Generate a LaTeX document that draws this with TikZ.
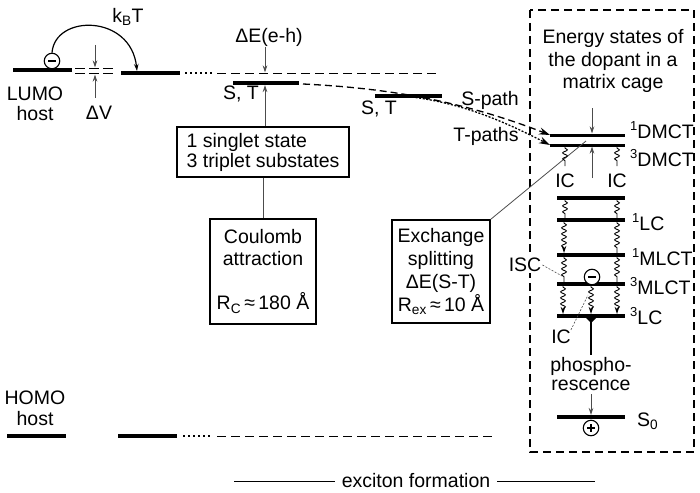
\documentclass[tikz,border=0pt]{standalone}
\usepackage{fontspec}
\setmainfont{Liberation Sans}
\usetikzlibrary{arrows.meta,decorations.pathmorphing}
\begin{document}
\begin{tikzpicture}[x=1pt,y=-1pt,
  lvl/.style={line width=3.6pt},
  txt/.style={font=\fontsize{19.5}{21}\selectfont, inner sep=0pt},
  thinln/.style={line width=0.8pt, black!70},
  arr/.style={-{Stealth[length=7pt,width=4.5pt]}},
  bigarr/.style={-{Stealth[length=11pt,width=7pt]}},
  wav/.style={decorate, decoration={snake, amplitude=2.4pt, segment length=6pt, pre length=1pt, post length=3pt}, line width=0.9pt},
  boxn/.style={draw, line width=1.1pt, inner sep=0pt},
  lead/.style={line width=0.6pt, dash pattern=on 2pt off 1.5pt, black!70},
  charge/.style={circle, draw, fill=white, minimum size=15.5pt, inner sep=0pt, line width=1.1pt}
]
\useasboundingbox (0,0) rectangle (700,492);

% ---------- LUMO side ----------
\coordinate (lumoA) at (13,70); \coordinate (lumoB) at (72,70);
\draw[lvl] (lumoA) -- (lumoB);
\node[txt, align=center, font=\fontsize{19.5}{20}\selectfont] (lumolbl) at (35,104) {LUMO\\host};
\node[charge] (elec) at (52,61) {};
\draw[line width=1.3pt] (48,61) -- (56,61);

\coordinate (dvA1) at (75,68.5); \coordinate (dvB1) at (115,68.5);
\coordinate (dvA2) at (75,73.5); \coordinate (dvB2) at (115,73.5);
\draw[line width=1.5pt, dash pattern=on 10pt off 4pt] (dvA1) -- (dvB1);
\draw[line width=1.5pt, dash pattern=on 10pt off 4pt] (dvA2) -- (dvB2);
\coordinate (dvtop) at (95,45); \coordinate (dvtopE) at (95,67.5);
\coordinate (dvbot) at (95,98); \coordinate (dvbotE) at (95,74.5);
\draw[thinln, arr] (dvtop) -- (dvtopE);
\draw[thinln, arr] (dvbot) -- (dvbotE);
\node[txt] (dvlbl) at (99,113) {ΔV};

\coordinate (lumo2A) at (121,73); \coordinate (lumo2B) at (180,73);
\draw[lvl] (lumo2A) -- (lumo2B);
\coordinate (lumoarr) at (137,71);
\draw[line width=1.2pt, arr] (elec.north) .. controls (55,14) and (131,14) .. (lumoarr);
\node[txt] (kbt) at (128,17) {k\textsubscript{B}T};

\coordinate (dotA) at (185,73); \coordinate (dotB) at (213,73);
\draw[line width=2.2pt, dash pattern=on 2pt off 3pt] (dotA) -- (dotB);
\coordinate (lumodashA) at (217,74); \coordinate (lumodashB) at (440,74);
\draw[line width=1pt, dash pattern=on 9pt off 5pt] (lumodashA) -- (lumodashB);

% Delta E(e-h)
\node[txt] (deh) at (269,37) {ΔE(e-h)};
\coordinate (dehA) at (265,47); \coordinate (dehB) at (265,72.5);
\draw[thinln, arr] (dehA) -- (dehB);

% S,T level 1
\coordinate (st1A) at (233,83); \coordinate (st1B) at (299,83);
\draw[lvl] (st1A) -- (st1B);
\node[txt] (st1lbl) at (241,94) {S, T};

% S,T level 2
\coordinate (st2A) at (375,96); \coordinate (st2B) at (442,96);
\draw[lvl] (st2A) -- (st2B);
\node[txt] (st2lbl) at (379,109) {S, T};

% singlet / triplet box
\node[boxn, minimum width=172pt, minimum height=50pt, align=left, font=\fontsize{19.5}{20}\selectfont] (stbox) at (263,152) {1 singlet state\\3 triplet substates};
\coordinate (stup) at (265,85);
\draw[thinln, arr] (stbox.north -| stup) -- (stup);

% Coulomb box
\node[boxn, minimum width=106pt, minimum height=105pt, align=center, font=\fontsize{19.5}{22}\selectfont] (coul) at (263,271.5) {Coulomb\\attraction\\[22pt]R\textsubscript{C}\,≈\,180 Å};
\draw[thinln] (stbox.south) -- (coul.north);

% Exchange box
\node[boxn, minimum width=98pt, minimum height=103pt, align=center, font=\fontsize{19.5}{23}\selectfont] (exch) at (441,271.5) {Exchange\\splitting\\ΔE(S-T)\\R\textsubscript{ex}\,≈\,10 Å};

% dashed frame
\coordinate (frA) at (530,10); \coordinate (frB) at (694,452);
\draw[line width=2.4pt, dash pattern=on 8pt off 5pt] (frA) rectangle (frB);
\node[txt, align=center, font=\fontsize{19.5}{22.5}\selectfont] (title) at (613,61) {Energy states of\\the dopant in a\\matrix cage};

% DMCT levels
\coordinate (d1A) at (550,135); \coordinate (d1B) at (625,135);
\coordinate (d3A) at (550,145); \coordinate (d3B) at (625,145);
\draw[line width=3pt] (d1A) -- (d1B);
\draw[line width=3pt] (d3A) -- (d3B);
\node[txt, anchor=west] (d1lbl) at (630,130) {\raisebox{8pt}{\fontsize{13}{13}\selectfont 1}DMCT};
\node[txt, anchor=west] (d3lbl) at (630,158) {\raisebox{8pt}{\fontsize{13}{13}\selectfont 3}DMCT};
\coordinate (ddA) at (592,108); \coordinate (ddAe) at (592,133.5);
\coordinate (ddB) at (592,178); \coordinate (ddBe) at (592,146.5);
\draw[thinln, arr] (ddA) -- (ddAe);
\draw[thinln, arr] (ddB) -- (ddBe);

% paths
\coordinate (spS) at (303,84);
\coordinate (tpS) at (412,97);
\draw[line width=1.3pt, dash pattern=on 7pt off 4pt, bigarr] (spS) .. controls (385,88) and (460,100) .. (d1A);
\draw[line width=1.3pt, dash pattern=on 2pt off 1.6pt, bigarr] (tpS) .. controls (465,104) and (505,122) .. (d3A);
\node[txt] (splbl) at (490,100) {S-path};
\node[txt] (tplbl) at (486,136) {T-paths};

% exchange leader
\coordinate (exlead) at (586,141);
\draw[thinln] (exch.north east) -- (exlead);

% IC from DMCT
\coordinate (w1a) at (565,147); \coordinate (w1b) at (565,166);
\coordinate (w2a) at (617,147); \coordinate (w2b) at (617,166);
\draw[wav] (w1a) -- (w1b);
\draw[wav] (w2a) -- (w2b);
\node[txt] (ic1) at (565,181) {IC};
\node[txt] (ic2) at (617,181) {IC};

% ladder levels
\foreach \n/\y in {L0/198, L1/220, M1/255, M3/284, L3/316, S0/417} {
  \coordinate (\n A) at (557,\y); \coordinate (\n B) at (625,\y);
  \draw[lvl] (\n A) -- (\n B);
}
\node[txt, anchor=west] (l1lbl) at (632,222) {\raisebox{8pt}{\fontsize{13}{13}\selectfont 1}LC};
\node[txt, anchor=west] (m1lbl) at (632,257) {\raisebox{8pt}{\fontsize{13}{13}\selectfont 1}MLCT};
\node[txt, anchor=west] (m3lbl) at (630,286) {\raisebox{8pt}{\fontsize{13}{13}\selectfont 3}MLCT};
\node[txt, anchor=west] (l3lbl) at (630,316) {\raisebox{8pt}{\fontsize{13}{13}\selectfont 3}LC};
\node[txt, anchor=west] (s0lbl) at (637,421) {S\textsubscript{0}};

% wavy transitions
\draw[wav] (565,200) -- (565,218);
\draw[wav] (617,200) -- (617,218);
\draw[wav, arr] (564,222) -- (564,253);
\draw[wav] (617,222) -- (617,253);
\draw[wav] (564,257) -- (564,282);
\draw[wav] (617,257) -- (617,282);
\draw[wav, arr] (563,286) -- (563,314);
\draw[wav, arr] (617,286) -- (617,314);
\node[charge] (elec2) at (592,277) {};
\draw[line width=1.3pt] (588,277) -- (596,277);
\draw[wav, arr] (591,286) -- (591,314);

% phosphorescence
\fill (585,317) -- (597,317) -- (591,323) -- cycle;
\coordinate (phA) at (591,318); \coordinate (phB) at (591,355);
\draw[line width=1.3pt] (phA) -- (phB);
\node[txt, align=center, font=\fontsize{19.5}{19}\selectfont] (phos) at (591,374) {phospho-\\rescence};
\coordinate (phC) at (591,394); \coordinate (phD) at (591,415);
\draw[thinln, arr] (phC) -- (phD);
\node[charge] (hole) at (591,428) {};
\draw[line width=1.3pt] (587,428) -- (595,428);
\draw[line width=1.3pt] (591,424) -- (591,432);

% ISC and IC labels
\node[txt, fill=white, inner xsep=1pt, inner ysep=1pt] (isc) at (525,265) {ISC};
\coordinate (iscend) at (562,276);
\draw[lead] (isc.east) -- (iscend);
\node[txt] (ic3) at (561,337) {IC};
\coordinate (ic3end) at (588,295);
\draw[lead] (ic3.north east) -- (ic3end);

% ---------- HOMO side ----------
\coordinate (homoA) at (7,436); \coordinate (homoB) at (66,436);
\draw[lvl] (homoA) -- (homoB);
\node[txt, align=center, font=\fontsize{19.5}{21}\selectfont] (homolbl) at (35,408) {HOMO\\host};
\coordinate (homo2A) at (118,436); \coordinate (homo2B) at (177,436);
\draw[lvl] (homo2A) -- (homo2B);
\coordinate (hdotA) at (183,436); \coordinate (hdotB) at (212,436);
\draw[line width=2.2pt, dash pattern=on 2pt off 3pt] (hdotA) -- (hdotB);
\coordinate (hdashA) at (217,436); \coordinate (hdashB) at (495,436);
\draw[line width=1pt, dash pattern=on 9pt off 5pt] (hdashA) -- (hdashB);

% exciton formation
\node[txt] (exf) at (416,481) {exciton formation};
\coordinate (exfL) at (234,481); \coordinate (exfR) at (595,481);
\draw[line width=0.9pt] (exfL) -- ([xshift=-7pt]exf.west);
\draw[line width=0.9pt] ([xshift=7pt]exf.east) -- (exfR);
\end{tikzpicture}
\end{document}
